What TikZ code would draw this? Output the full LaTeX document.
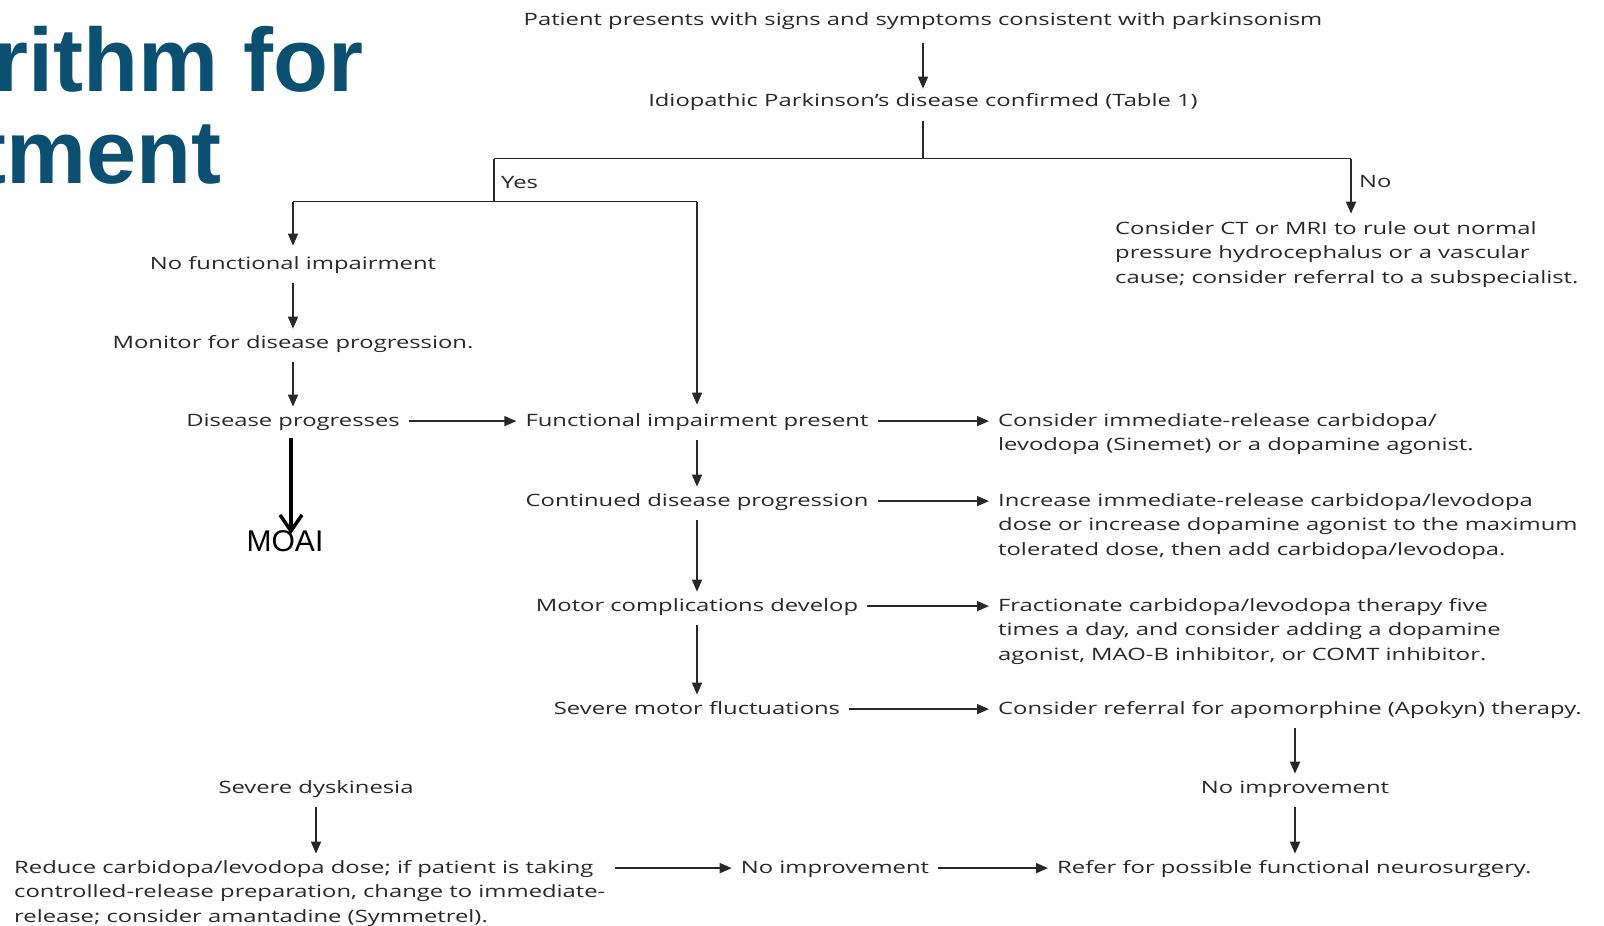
\documentclass[tikz,border=0pt]{standalone}
\usepackage{fontspec}
\newfontfamily\chartfont{Open Sans}[FakeStretch=1.4]
\newfontfamily\titlefont{Liberation Sans}
\usetikzlibrary{arrows.meta,calc}
\definecolor{titleblue}{RGB}{11,80,112}
\definecolor{ink}{RGB}{40,40,40}
\newcommand\tl[1]{\begin{tabular}[t]{@{}l@{}}#1\end{tabular}}
\begin{document}
\begin{tikzpicture}[x=1pt,y=-1pt,
  txt/.style={font=\chartfont\fontsize{17}{24.5}\selectfont, text=ink, inner xsep=9pt, inner ysep=0pt, yshift=-2.5pt},
  lbl/.style={txt, inner xsep=0pt},
  ln/.style={draw=ink, line width=1.6pt},
  arr/.style={ln, -{Triangle[length=12pt,width=10pt]}},
  vs/.style={shorten <=6pt, shorten >=2pt},
  ttl/.style={font=\titlefont\bfseries\fontsize{90}{92}\selectfont, text=titleblue, inner sep=0pt},
  moaiarr/.style={draw=black, line width=3.5pt, -{Straight Barb[length=16pt,width=22pt]}}]
\fill[white] (0,0) rectangle (1604,926);
\useasboundingbox (0,0) rectangle (1604,926);
% title
\node[ttl, anchor=base east] (t1) at (364,91) {rithm for};
\node[ttl, anchor=base east] (t2) at (222,183) {tment};
% nodes
\node[txt, anchor=base] (patient) at (923,23) {\tl{Patient presents with signs and symptoms consistent with parkinsonism}};
\node[txt, anchor=base] (idio) at (923,103.5) {\tl{Idiopathic Parkinson’s disease confirmed (Table 1)}};
\node[txt, anchor=base west] (ct) at (1106,231.5) {\tl{Consider CT or MRI to rule out normal\\ pressure hydrocephalus or a vascular\\ cause; consider referral to a subspecialist.}};
\node[lbl, anchor=base west] (yes) at (501,185.5) {Yes};
\node[lbl, anchor=base west] (no) at (1359,184.5) {No};
\node[txt, anchor=base] (nofunc) at (293,266.5) {\tl{No functional impairment}};
\node[txt, anchor=base] (monitor) at (293,345.5) {\tl{Monitor for disease progression.}};
\node[txt, anchor=base] (disprog) at (293,423.5) {\tl{Disease progresses}};
\node[txt, anchor=base] (funcimp) at (697,423.5) {\tl{Functional impairment present}};
\node[txt, anchor=base west] (cons1) at (989,423.5) {\tl{Consider immediate-release carbidopa/\\ levodopa (Sinemet) or a dopamine agonist.}};
\node[txt, anchor=base] (contd) at (697,503.5) {\tl{Continued disease progression}};
\node[txt, anchor=base west] (incr) at (989,503.5) {\tl{Increase immediate-release carbidopa/levodopa\\ dose or increase dopamine agonist to the maximum\\ tolerated dose, then add carbidopa/levodopa.}};
\node[txt, anchor=base] (motor) at (697,608.5) {\tl{Motor complications develop}};
\node[txt, anchor=base west] (fract) at (989,608.5) {\tl{Fractionate carbidopa/levodopa therapy five\\ times a day, and consider adding a dopamine\\ agonist, MAO-B inhibitor, or COMT inhibitor.}};
\node[txt, anchor=base] (severe) at (697,711.5) {\tl{Severe motor fluctuations}};
\node[txt, anchor=base west] (apo) at (989,711.5) {\tl{Consider referral for apomorphine (Apokyn) therapy.}};
\node[txt, anchor=base] (noimp1) at (1295,790.5) {\tl{No improvement}};
\node[txt, anchor=base west] (refer) at (1048,870.5) {\tl{Refer for possible functional neurosurgery.}};
\node[txt, anchor=base] (noimp2) at (835,870.5) {\tl{No improvement}};
\node[txt, anchor=base west] (reduce) at (5,870.5) {\tl{Reduce carbidopa/levodopa dose; if patient is taking\\ controlled-release preparation, change to immediate-\\ release; consider amantadine (Symmetrel).}};
\node[txt, anchor=base] (dysk) at (316,790.5) {\tl{Severe dyskinesia}};
\node[anchor=base, inner sep=0pt, font=\titlefont\fontsize{30}{30}\selectfont] (moai) at (285,551) {MOAI};
% coordinates
\coordinate (split) at (923,158.5);
\coordinate (yesTop) at (494,158.5);
\coordinate (noTop) at (1351,158.5);
\coordinate (yesBot) at (494,201.5);
\coordinate (mtop) at (291,438);
\coordinate (mbot) at (291,534);
% connectors
\draw[arr, shorten <=10pt] (patient) -- (idio);
\draw[ln, shorten <=7pt] (idio) -- (split);
\draw[ln] (yesTop) -- (noTop);
\draw[arr, shorten >=3pt] (noTop) -- (noTop |- ct.north);
\draw[ln] (yesTop) -- (yesBot);
\draw[ln] (nofunc |- yesBot) -- (funcimp |- yesBot);
\draw[arr, shorten >=6pt] (nofunc |- yesBot) -- (nofunc);
\draw[arr, shorten >=4pt] (funcimp |- yesBot) -- (funcimp);
\draw[arr, vs] (nofunc) -- (monitor);
\draw[arr, vs] (monitor) -- (disprog);
\draw[arr, vs] (funcimp) -- (contd);
\draw[arr, vs] (contd) -- (motor);
\draw[arr, vs] (motor) -- (severe);
\draw[arr, vs] (apo.south -| noimp1) -- (noimp1);
\draw[arr, vs] (noimp1) -- (noimp1 |- refer.north);
\draw[arr, vs] (dysk) -- (dysk |- reduce.north);
\draw[arr] (disprog) -- (funcimp);
\draw[arr] (funcimp) -- (funcimp -| cons1.west);
\draw[arr] (contd) -- (contd -| incr.west);
\draw[arr] (motor) -- (motor -| fract.west);
\draw[arr] (severe) -- (severe -| apo.west);
\draw[arr] (reduce.east |- noimp2) -- (noimp2);
\draw[arr] (noimp2) -- (noimp2 -| refer.west);
\draw[moaiarr] (mtop) -- (mbot);
\end{tikzpicture}
\end{document}
